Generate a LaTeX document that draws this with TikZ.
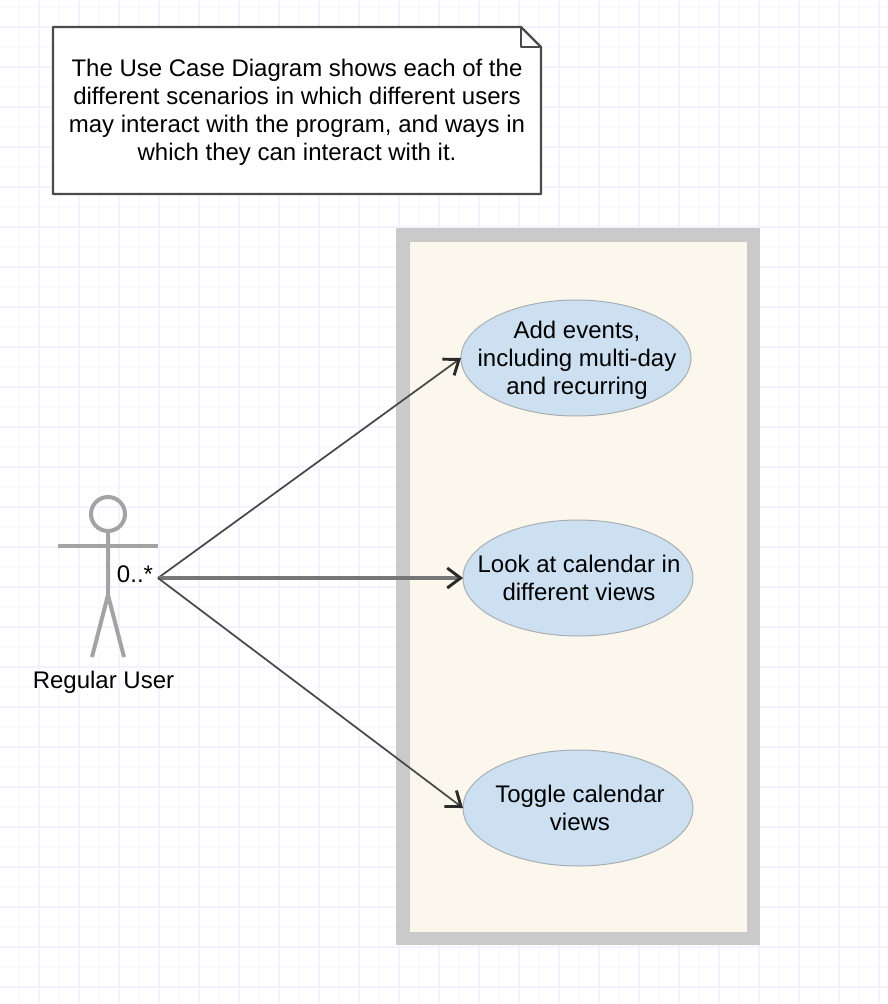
\documentclass[tikz,border=0pt]{standalone}
\usepackage{fontspec}
\setmainfont{Liberation Sans}
\usetikzlibrary{arrows.meta,shapes.geometric}
\definecolor{gridminor}{HTML}{FAF9FF}
\definecolor{gridmajor}{HTML}{F4F2FF}
\definecolor{notedge}{HTML}{4A4A4A}
\definecolor{frameedge}{HTML}{CACACA}
\definecolor{framefill}{HTML}{FCF7EC}
\definecolor{casefill}{HTML}{CDE0F2}
\definecolor{caseedge}{HTML}{A9AEB2}
\definecolor{actorgray}{HTML}{A3A3A3}
\definecolor{linkgray}{HTML}{484848}
\definecolor{tipgray}{HTML}{2A2A2A}
\tikzset{
  x=0.75pt,y=-0.75pt,
  usecase/.style={ellipse,draw=caseedge,fill=casefill,line width=0.75pt,minimum width=172.5pt,minimum height=87pt,inner sep=0pt,outer sep=0pt},
  plainlabel/.style={inner sep=0pt,align=center,font=\fontsize{18}{21}\selectfont},
  notebody/.style={draw=notedge,fill=white,line width=1.6pt,line join=round},
  actorline/.style={draw=actorgray,line width=3pt},
  link/.style={draw=linkgray,line width=1.3pt,-{Straight Barb[length=10pt,width=15pt,line width=2.2pt,color=tipgray]}},
  hublink/.style={link,line width=2.4pt,draw=linkgray!75}
}
\begin{document}
\begin{tikzpicture}
\useasboundingbox (0,0) rectangle (888,1004);
\fill[white] (0,0) rectangle (888,1004);
% grid
\foreach \gx in {19,59,...,879} \draw[gridminor,line width=1.2pt] (\gx,0) -- (\gx,1004);
\foreach \gy in {7,47,...,1004} \draw[gridminor,line width=1.2pt] (0,\gy) -- (888,\gy);
\foreach \gx in {39,79,...,879} \draw[gridmajor,line width=1.2pt] (\gx,0) -- (\gx,1004);
\foreach \gy in {27,67,...,1004} \draw[gridmajor,line width=1.2pt] (0,\gy) -- (888,\gy);
% note
\draw[notebody] (53,27) -- (521,27) -- (541,47) -- (541,194) -- (53,194) -- cycle;
\draw[notebody,fill=none] (521,27) -- (521,47) -- (541,47);
\node[plainlabel] (note) at (297,112) {The Use Case Diagram shows each of the\\different scenarios in which different users\\may interact with the program, and ways in\\which they can interact with it.};
% system frame
\draw[draw=frameedge,fill=framefill,line width=10pt] (403,235) rectangle (753.5,938.5);
% use cases
\node[usecase] (add) at (576,358) {};
\node[plainlabel] (addtext) at (577,360) {Add events,\\including multi-day\\and recurring};
\node[usecase] (look) at (578,578) {};
\node[plainlabel] (looktext) at (579,577.5) {Look at calendar in\\different views};
\node[usecase] (toggle) at (578,808) {};
\node[plainlabel] (toggletext) at (580,808) {Toggle calendar\\views};
% actor
\node[circle,draw=actorgray,line width=3pt,minimum size=25.5pt,inner sep=0pt] (head) at (108,514) {};
\coordinate (waist) at (108,595);
\coordinate (armL) at (58,546);
\coordinate (armR) at (158,546);
\coordinate (footL) at (92,657);
\coordinate (footR) at (124,657);
\draw[actorline] (head.south) -- (waist) -- (footL);
\draw[actorline] (waist) -- (footR);
\draw[actorline] (armL) -- (armR);
\node[plainlabel] (actorname) at (103.5,682) {Regular User};
\node[plainlabel] (mult) at (135,574.5) {0..*};
% connectors
\coordinate (hub) at (158,578);
\draw[link] (hub) -- (add.west);
\draw[hublink] (hub) -- (look.west);
\draw[link] (hub) -- (toggle.west);
\end{tikzpicture}
\end{document}
